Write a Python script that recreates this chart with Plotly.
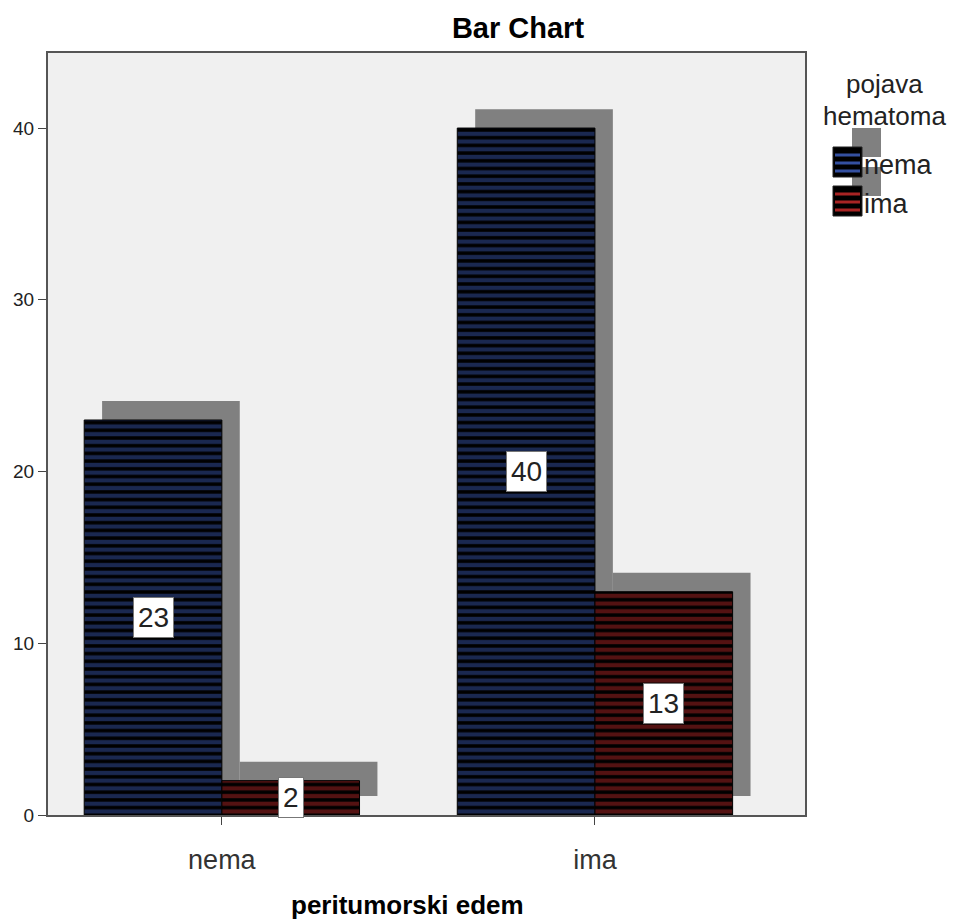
import plotly.graph_objects as go

# data
categories = ['nema', 'ima']          # peritumorski edem
series_names = ['nema', 'ima']        # pojava hematoma
nema_vals = [23, 40]
ima_vals = [2, 13]

blue = '#3450a0'
red = '#a82424'
shadow = '#808080'

w = 0.369          # bar width in category units
dx = 0.048         # shadow shift right
base_sh = 1.1      # shadow lift

xpos = list(range(len(categories)))

# page body has an 8px margin, so the figure is shrunk by that much
W, H = 950, 916
L, T, R, B = 40, 45, 153, 109
pw, ph = W - L - R, H - T - B


def px_x(x):   # window pixel -> paper x
    return (x - 8 - L) / pw


def px_y(y):   # window pixel -> paper y
    return (H - B - (y - 8)) / ph


fig = go.Figure()

# shadows first
for vals, off in [(nema_vals, -w / 2), (ima_vals, w / 2)]:
    fig.add_trace(go.Bar(
        x=[p + off + dx for p in xpos], y=vals, base=[base_sh] * len(vals),
        width=w, marker=dict(color=shadow, line=dict(width=0)),
        showlegend=False, hoverinfo='skip'))

for vals, off, col, name in [(nema_vals, -w / 2, blue, series_names[0]),
                             (ima_vals, w / 2, red, series_names[1])]:
    fig.add_trace(go.Bar(
        x=[p + off for p in xpos], y=vals, width=w, name=name, showlegend=False,
        marker=dict(color='black', line=dict(color='black', width=1),
                    pattern=dict(shape='-', fgcolor=col, bgcolor='black',
                                 size=7.7, solidity=0.55, fillmode='overlay'))))

# value labels
for vals, off in [(nema_vals, -w / 2), (ima_vals, w / 2)]:
    for p, v in zip(xpos, vals):
        fig.add_annotation(x=p + off, y=v / 2, text=str(v), showarrow=False,
                           font=dict(size=28, color='#222'), bgcolor='white',
                           bordercolor='#777', borderwidth=1, borderpad=4)

# legend, drawn by hand to get the big striped swatches with drop shadows
for txt, yc in [('pojava', 84), ('hematoma', 116)]:
    fig.add_annotation(xref='paper', yref='paper', x=px_x(884), y=px_y(yc), xanchor='center',
                       yanchor='middle', text=txt, showarrow=False,
                       font=dict(size=26, color='#222'))
tops = [147, 186]
for top in tops:
    fig.add_shape(type='rect', xref='paper', yref='paper', x0=px_x(852), x1=px_x(881),
                  y0=px_y(top + 10), y1=px_y(top - 19), fillcolor=shadow, line=dict(width=0))
for top, col, name in zip(tops, [blue, red], series_names):
    fig.add_shape(type='rect', xref='paper', yref='paper', x0=px_x(833), x1=px_x(862),
                  y0=px_y(top + 30), y1=px_y(top), fillcolor='black',
                  line=dict(color='#222', width=1))
    for s in (8, 16, 24):
        fig.add_shape(type='rect', xref='paper', yref='paper', x0=px_x(835), x1=px_x(860),
                      y0=px_y(top + s + 1.5), y1=px_y(top + s - 1.5), fillcolor=col,
                      line=dict(width=0))
    fig.add_annotation(xref='paper', yref='paper', x=px_x(862), y=px_y(top + 18), xanchor='left',
                       yanchor='middle', text=name, showarrow=False,
                       font=dict(size=27, color='#222'))

# x axis title (SPSS puts it slightly left of the plot centre)
fig.add_annotation(xref='paper', yref='paper', x=px_x(407), y=px_y(905), xanchor='center',
                   yanchor='middle', text='<b>peritumorski edem</b>', showarrow=False,
                   font=dict(size=26, color='black'))

fig.update_layout(
    width=W, height=H,
    barmode='overlay', showlegend=False,
    plot_bgcolor='#f0f0f0', paper_bgcolor='white',
    font=dict(family='Liberation Sans, Arial', color='black'),
    margin=dict(l=L, r=R, t=T, b=B, autoexpand=False),
    title=dict(text='<b>Bar Chart</b>', x=(518 - 8) / W, xref='container', xanchor='center',
               y=1 - (28 - 8) / H, yref='container', yanchor='middle', font=dict(size=29)),
    xaxis=dict(range=[-0.466, 1.563], tickvals=xpos, ticktext=categories, automargin=False,
               ticks='outside', ticklen=8, tickcolor='#444', showgrid=False, ticklabelstandoff=12,
               zeroline=False, showline=True, linecolor='#555', linewidth=2, mirror=True,
               tickfont=dict(size=27, color='#333')),
    yaxis=dict(range=[0, 44.37], tickvals=[0, 10, 20, 30, 40], ticks='outside', automargin=False,
               ticklen=8, tickcolor='#444', showgrid=False, zeroline=False,
               showline=True, linecolor='#555', linewidth=2, mirror=True,
               tickfont=dict(size=19, color='#222')),
)

fig.write_html('out.html')
